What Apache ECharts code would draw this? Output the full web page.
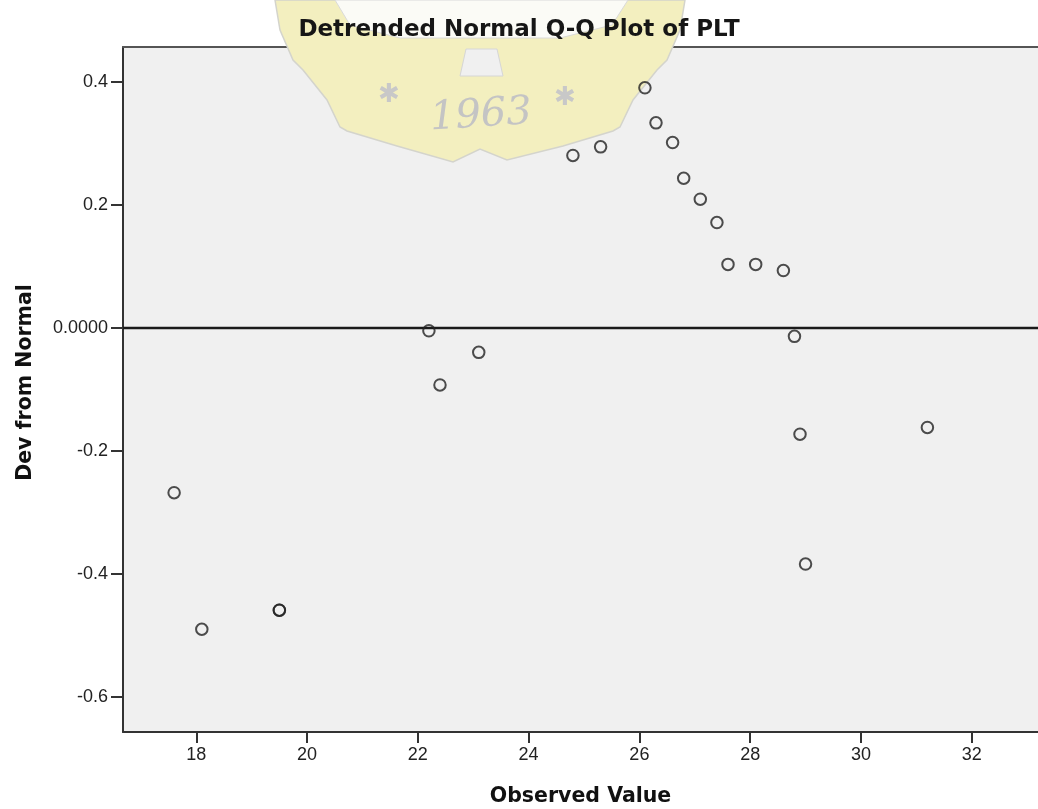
<!DOCTYPE html>
<html>
<head>
<meta charset="utf-8">
<script src="https://cdn.jsdelivr.net/npm/echarts@6/dist/echarts.min.js"></script>
<style>
html,body{margin:0;padding:0;background:#ffffff;}
#chart{width:1038px;height:809px;}
</style>
</head>
<body>
<div id="chart"></div>
<script>
// ---- data ----
const chartTitle = 'Detrended Normal Q-Q Plot of PLT';
const xAxisTitle = 'Observed Value';
const yAxisTitle = 'Dev from Normal';
const observedValue = [17.6, 18.1, 19.5, 19.5, 22.2, 22.4, 23.1, 24.8, 25.3, 26.1, 26.3,
                       26.6, 26.8, 27.1, 27.4, 27.6, 28.1, 28.6, 28.8, 28.9, 29.0, 31.2];
const devFromNormal = [-0.268, -0.490, -0.459, -0.459, -0.005, -0.093, -0.040, 0.280, 0.294, 0.390, 0.333,
                       0.301, 0.243, 0.209, 0.171, 0.103, 0.103, 0.093, -0.014, -0.173, -0.384, -0.162];
const xTickValues = [18, 20, 22, 24, 26, 28, 30, 32];
const yTickValues = [-0.6, -0.4, -0.2, 0, 0.2, 0.4];
const referenceLine = 0;
const watermarkText = '1963';

const points = observedValue.map((v, i) => [v, devFromNormal[i]]);

const chart = echarts.init(document.getElementById('chart'), null, {renderer: 'canvas'});

const tickFont = {fontFamily: '"Liberation Sans", Arial, sans-serif', fontSize: 18, color: '#222'};
const titleFont = {fontFamily: '"DejaVu Sans", sans-serif', fontWeight: 'bold', fontSize: 20.5, color: '#111'};

const option = {
  backgroundColor: '#ffffff',
  animation: false,
  title: {
    text: chartTitle,
    left: 'center',
    top: 14,
    textStyle: {fontFamily: '"DejaVu Sans", sans-serif', fontWeight: 'bold', fontSize: 23, color: '#161616'}
  },
  grid: {
    left: 123, top: 47, right: 0, bottom: 77,
    outerBoundsMode: 'none',
    containLabel: false,
    show: true, backgroundColor: '#f0f0f0', borderWidth: 0
  },
  xAxis: [{
    type: 'value',
    min: 16.677, max: 33.197,
    name: xAxisTitle,
    nameLocation: 'middle',
    nameGap: 54,
    nameTextStyle: titleFont,
    axisLine: {show: true, onZero: false, lineStyle: {color: '#333', width: 2}},
    axisTick: {show: true, length: 11, customValues: xTickValues, lineStyle: {color: '#333', width: 2}},
    axisLabel: {show: true, margin: 14, customValues: xTickValues, ...tickFont},
    splitLine: {show: false}
  }, {
    type: 'value', position: 'top',
    min: 16.677, max: 33.197,
    axisLine: {show: true, onZero: false, lineStyle: {color: '#555', width: 2}},
    axisTick: {show: false}, axisLabel: {show: false}, splitLine: {show: false}
  }],
  yAxis: {
    type: 'value',
    min: -0.657, max: 0.4563,
    name: yAxisTitle,
    nameLocation: 'middle',
    nameGap: 87,
    nameTextStyle: Object.assign({}, titleFont, {padding: [0, 0, 0, 14]}),
    axisLine: {show: true, onZero: false, lineStyle: {color: '#333', width: 2}},
    axisTick: {show: true, length: 12, customValues: yTickValues, lineStyle: {color: '#333', width: 2}},
    axisLabel: {
      show: true, margin: 15, customValues: yTickValues, ...tickFont,
      formatter: v => (Math.abs(v) < 1e-9 ? '0.0000' : v.toFixed(1))
    },
    splitLine: {show: false}
  },
  series: [{
    type: 'scatter',
    data: points,
    symbol: 'circle',
    symbolSize: 11.5,
    z: 5,
    itemStyle: {color: 'rgba(0,0,0,0)', borderColor: '#222', borderWidth: 2},
    markLine: {
      silent: true,
      symbol: ['none', 'none'],
      label: {show: false},
      lineStyle: {color: '#1a1a1a', width: 2.4, type: 'solid'},
      data: [{yAxis: referenceLine}]
    }
  }],
  graphic: [
    {
      type: 'polygon', z: 1, silent: true,
      shape: {points: [[275,0],[685,0],[680,30],[667,60],[657,70],[633,100],[620,127],[613,131],[563,146],[507,160],[480,149],[453,162],[397,146],[347,131],[340,127],[327,100],[303,70],[293,60],[280,30]]},
      style: {fill: '#f3efbf', stroke: '#d4d4cc', lineWidth: 1.5}
    },
    {
      type: 'polygon', z: 1, silent: true,
      shape: {points: [[335,0],[628,0],[612,25],[560,38],[400,38],[350,25]]},
      style: {fill: '#fbfbf6', stroke: '#dadada', lineWidth: 1}
    },
    {
      type: 'polygon', z: 1, silent: true,
      shape: {points: [[466,49],[497,49],[503,76],[460,76]]},
      style: {fill: '#f0f0f0', stroke: '#d6d6d6', lineWidth: 1}
    },
    {
      type: 'text', z: 1, silent: true, x: 481, y: 116, rotation: 0.06,
      style: {text: watermarkText, font: 'italic 40px "DejaVu Serif", serif', fill: '#c4c4c4', align: 'center', verticalAlign: 'middle'}
    },
    {
      type: 'text', z: 1, silent: true, x: 389, y: 95,
      style: {text: '\u2731', font: '26px "DejaVu Sans", sans-serif', fill: '#c8c8c8', align: 'center', verticalAlign: 'middle'}
    },
    {
      type: 'text', z: 1, silent: true, x: 565, y: 98,
      style: {text: '\u2731', font: '26px "DejaVu Sans", sans-serif', fill: '#c8c8c8', align: 'center', verticalAlign: 'middle'}
    }
  ]
};

chart.setOption(option);
</script>
</body>
</html>
